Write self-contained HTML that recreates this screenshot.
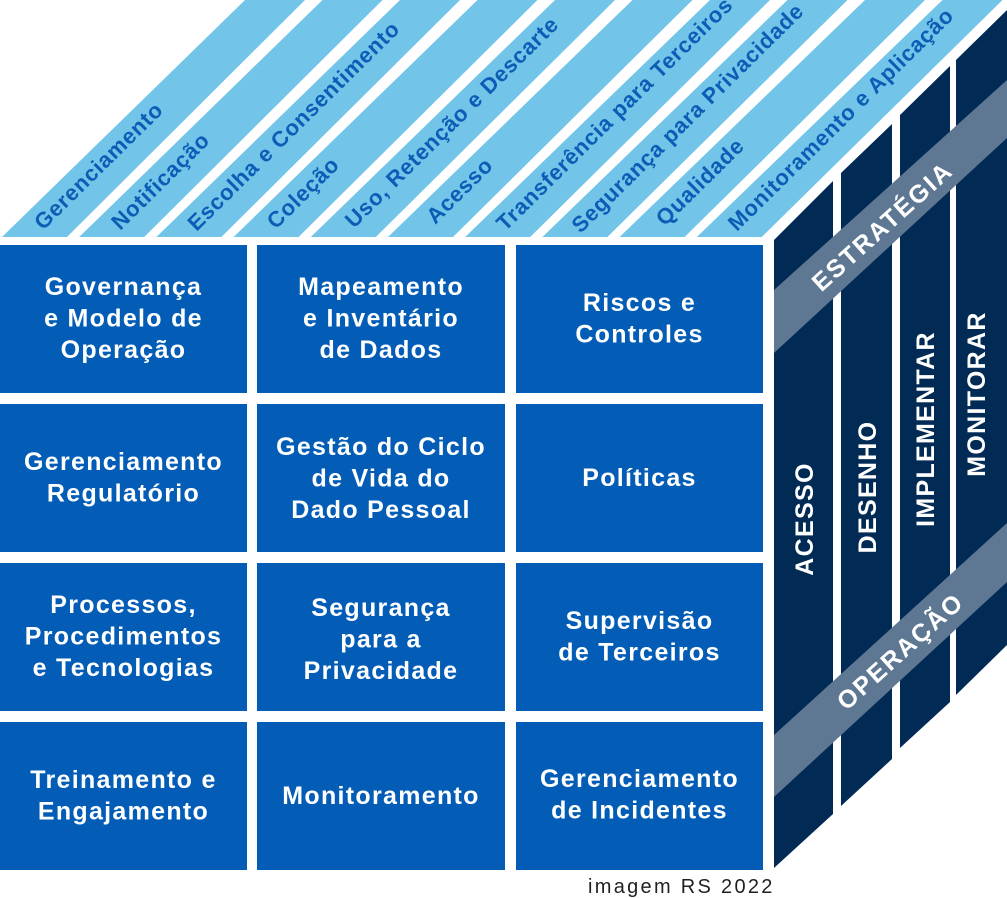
<!DOCTYPE html>
<html>
<head>
<meta charset="utf-8">
<style>
  html, body { margin: 0; padding: 0; background: #ffffff; }
  svg { display: block; }
  .top { font-family: "Liberation Sans", sans-serif; font-weight: bold; font-size: 22px; fill: #0b5db5; letter-spacing: 0.8px; }
  .box { font-family: "Liberation Sans", sans-serif; font-weight: bold; font-size: 25px; fill: #ffffff; letter-spacing: 1.3px; }
  .side { font-family: "Liberation Sans", sans-serif; font-weight: bold; font-size: 25px; fill: #ffffff; letter-spacing: 1.3px; }
  .band { font-family: "Liberation Sans", sans-serif; font-weight: bold; font-size: 25px; fill: #ffffff; letter-spacing: 2px; }
  .cap { font-family: "Liberation Sans", sans-serif; font-size: 20px; fill: #231f20; letter-spacing: 2.3px; }
</style>
</head>
<body>
<svg width="1007" height="898" viewBox="0 0 1007 898" xmlns="http://www.w3.org/2000/svg">
  <rect x="0" y="0" width="1007" height="898" fill="#ffffff"/>

  <!-- Top face strips -->
  <g fill="#72c5e9">
    <polygon points="2,237 67,237 305,0 245,0"/>
    <polygon points="79.2,237 144.2,237 382.5,0 322.5,0"/>
    <polygon points="156.4,237 221.4,237 460,0 400,0"/>
    <polygon points="233.6,237 298.6,237 537.5,0 477.5,0"/>
    <polygon points="310.8,237 375.8,237 615,0 555,0"/>
    <polygon points="388,237 453,237 692.5,0 632.5,0"/>
    <polygon points="465.2,237 530.2,237 770,0 710,0"/>
    <polygon points="542.4,237 607.4,237 847.5,0 787.5,0"/>
    <polygon points="619.6,237 684.6,237 925,0 865,0"/>
    <polygon points="696.8,237 761.8,237 1002.5,0 942.5,0"/>
  </g>

  <!-- Top face labels -->
  <g class="top">
    <text transform="translate(43.1,231) rotate(-44.6)">Gerenciamento</text>
    <text transform="translate(120.3,231) rotate(-44.6)">Notificação</text>
    <text transform="translate(196.5,232) rotate(-44.6)">Escolha e Consentimento</text>
    <text transform="translate(275.7,230) rotate(-44.6)">Coleção</text>
    <text transform="translate(353.9,229) rotate(-44.6)">Uso, Retenção e Descarte</text>
    <text transform="translate(435.2,225) rotate(-44.6)">Acesso</text>
    <text transform="translate(505.3,232) rotate(-44.6)">Transferência para Terceiros</text>
    <text transform="translate(580.5,234) rotate(-44.6)">Segurança para Privacidade</text>
    <text transform="translate(664.8,227) rotate(-44.6)">Qualidade</text>
    <text transform="translate(736.9,232) rotate(-44.6)">Monitoramento e Aplicação</text>
  </g>

  <!-- Front face boxes -->
  <g fill="#035db6">
    <rect x="0" y="245" width="247" height="148"/>
    <rect x="257" y="245" width="248" height="148"/>
    <rect x="516" y="245" width="247" height="148"/>
    <rect x="0" y="404" width="247" height="148"/>
    <rect x="257" y="404" width="248" height="148"/>
    <rect x="516" y="404" width="247" height="148"/>
    <rect x="0" y="563" width="247" height="148"/>
    <rect x="257" y="563" width="248" height="148"/>
    <rect x="516" y="563" width="247" height="148"/>
    <rect x="0" y="722" width="247" height="148"/>
    <rect x="257" y="722" width="248" height="148"/>
    <rect x="516" y="722" width="247" height="148"/>
  </g>

  <!-- Front face labels -->
  <g class="box" text-anchor="middle">
    <text x="123.5" y="295">Governança</text>
    <text x="123.5" y="326.5">e Modelo de</text>
    <text x="123.5" y="358">Operação</text>

    <text x="381" y="295">Mapeamento</text>
    <text x="381" y="326.5">e Inventário</text>
    <text x="381" y="358">de Dados</text>

    <text x="639.5" y="311">Riscos e</text>
    <text x="639.5" y="342.5">Controles</text>

    <text x="123.5" y="470">Gerenciamento</text>
    <text x="123.5" y="501.5">Regulatório</text>

    <text x="381" y="455">Gestão do Ciclo</text>
    <text x="381" y="486.5">de Vida do</text>
    <text x="381" y="518">Dado Pessoal</text>

    <text x="639.5" y="486">Políticas</text>

    <text x="123.5" y="613">Processos,</text>
    <text x="123.5" y="644.5">Procedimentos</text>
    <text x="123.5" y="676">e Tecnologias</text>

    <text x="381" y="616">Segurança</text>
    <text x="381" y="647.5">para a</text>
    <text x="381" y="679">Privacidade</text>

    <text x="639.5" y="629">Supervisão</text>
    <text x="639.5" y="660.5">de Terceiros</text>

    <text x="123.5" y="788">Treinamento e</text>
    <text x="123.5" y="819.5">Engajamento</text>

    <text x="381" y="804">Monitoramento</text>

    <text x="639.5" y="787">Gerenciamento</text>
    <text x="639.5" y="818.5">de Incidentes</text>
  </g>

  <!-- Right face strips -->
  <g fill="#012a55">
    <polygon points="774,240 833,181 833,814 774,868"/>
    <polygon points="841,173 892,124 892,759 841,806"/>
    <polygon points="900,115 950,66 950,702 900,748"/>
    <polygon points="956,60 1007,10 1007,645 956,695"/>
  </g>

  <!-- Gray bands -->
  <g fill="#5e7893">
    <polygon points="774,290 1007,80 1007,138 774,353"/>
    <polygon points="774,735 1007,523 1007,582 774,797"/>
  </g>

  <!-- Right face vertical labels -->
  <g class="side" text-anchor="middle">
    <text transform="translate(813,519) rotate(-90)">ACESSO</text>
    <text transform="translate(876,487) rotate(-90)">DESENHO</text>
    <text transform="translate(934,429) rotate(-90)">IMPLEMENTAR</text>
    <text transform="translate(985,394) rotate(-90)">MONITORAR</text>
  </g>

  <!-- Band labels -->
  <g class="band" text-anchor="middle">
    <text transform="translate(882,226) rotate(-42)" x="0" y="9">ESTRATÉGIA</text>
    <text transform="translate(900,651) rotate(-42)" x="0" y="9">OPERAÇÃO</text>
  </g>

  <!-- Caption -->
  <text class="cap" x="588" y="893">imagem RS 2022</text>
</svg>
</body>
</html>
